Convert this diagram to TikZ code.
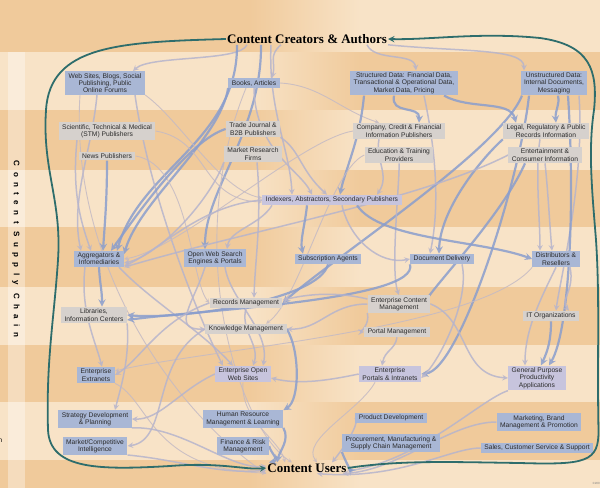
\documentclass[tikz,border=0pt]{standalone}
\usepackage{fontspec}
\setmainfont{Liberation Sans}
\newfontfamily\titlefont{Liberation Serif}
\usepackage{xcolor}
\usetikzlibrary{arrows}

\definecolor{bgdark}{HTML}{F0CA9B}
\definecolor{bglight}{HTML}{F8E3C7}
\definecolor{loopteal}{HTML}{2E6D6C}
\definecolor{boxblue}{HTML}{A9B7D5}
\definecolor{boxgray}{HTML}{D6D1CD}
\definecolor{boxlila}{HTML}{C7C4DD}
\definecolor{flowblue}{HTML}{8A9ECD}
\definecolor{flowgray}{HTML}{B6B4CC}
\definecolor{flowpale}{HTML}{C4BAC4}
\definecolor{txt}{HTML}{2B2B2B}

\pgfdeclarelayer{bg}
\pgfdeclarelayer{edges}
\pgfsetlayers{bg,edges,main}

\tikzset{
  box/.style={inner xsep=3.5pt, inner ysep=2pt, align=center, text=txt,
    font=\fontsize{6.7}{7.3}\selectfont},
  bluebox/.style={box, fill=boxblue},
  graybox/.style={box, fill=boxgray},
  lilabox/.style={box, fill=boxlila},
  flowb/.style={draw=flowblue, line width=2.2pt, -stealth, opacity=.85},
  flowg/.style={draw=flowgray, line width=1.5pt, -stealth, opacity=.85},
  flowt/.style={draw=flowpale, line width=0.9pt, -stealth, opacity=.85},
  loopline/.style={draw=loopteal, line width=1.8pt, -stealth},
  bigtitle/.style={font=\titlefont\bfseries\fontsize{13}{15}\selectfont, inner sep=1pt}
}

\begin{document}
\begin{tikzpicture}[x=1pt,y=-1pt]
\useasboundingbox (0,0) rectangle (600,499);

% background bands
\begin{pgfonlayer}{bg}
\foreach \ya/\yb/\ca/\cb in {0/52/bgdark/bglight, 52/110/bglight/bgdark, 110/170/bgdark/bglight,
    170/227/bglight/bgdark, 227/287/bgdark/bglight, 287/345/bglight/bgdark,
    345/402/bgdark/bglight, 402/460/bglight/bgdark, 460/488/bgdark/bglight}{
  \fill[\ca] (0,\ya) rectangle (250,\yb);
  \shade[left color=\ca, right color=\cb] (249.5,\ya) rectangle (360.5,\yb);
  \fill[\cb] (360,\ya) rectangle (600,\yb);
}
\fill[white] (0,488) rectangle (600,499);
\fill[white, opacity=.35] (8,52) rectangle (25,488);
\end{pgfonlayer}

% ends of the chain
\node[bigtitle] (cca) at (307,39) {Content Creators \& Authors};
\node[bigtitle] (cu) at (307,468) {Content Users};
\node[rotate=-90, text=black, font=\bfseries\fontsize{8}{9}\selectfont\addfontfeature{LetterSpace=68}] (chain) at (16,249) {Content Supply Chain};
\node[anchor=west, inner sep=0pt, font=\fontsize{6.5}{7}\selectfont] (cut) at (-1.5,441) {n};
\node[anchor=east, inner sep=0pt, text=gray, font=\fontsize{3}{3}\selectfont] (copy) at (600,483) {©200};

% creators
\node[bluebox] (web) at (105,83) {Web Sites, Blogs, Social\\Publishing, Public\\Online Forums};
\node[bluebox] (books) at (254,83) {Books, Articles};
\node[bluebox] (strd) at (404,83) {Structured Data: Financial Data,\\Transactional \& Operational Data,\\Market Data, Pricing};
\node[bluebox] (unstr) at (554,83) {Unstructured Data:\\Internal Documents,\\Messaging};

% publishers
\node[graybox] (stm) at (107,131) {Scientific, Technical \& Medical\\(STM) Publishers};
\node[graybox] (news) at (107,156) {News Publishers};
\node[graybox] (trade) at (253,129) {Trade Journal \&\\B2B Publishers};
\node[graybox] (mrf) at (253,154) {Market Research\\Firms};
\node[graybox] (ccf) at (399,131) {Company, Credit \& Financial\\Information Publishers};
\node[graybox] (edu) at (399,155) {Education \& Training\\Providers};
\node[graybox] (legal) at (546,131) {Legal, Regulatory \& Public\\Records Information};
\node[graybox] (ent) at (545,155) {Entertainment \&\\Consumer Information};

% intermediaries
\node[lilabox] (idx) at (332,200) {Indexers, Abstractors, Secondary Publishers};
\node[bluebox] (agg) at (99,259) {Aggregators \&\\Infomediaries};
\node[bluebox] (ows) at (215,258) {Open Web Search\\Engines \& Portals};
\node[bluebox] (subs) at (328,259) {Subscription Agents};
\node[bluebox] (docd) at (442,259) {Document Delivery};
\node[bluebox] (dist) at (556,259) {Distributors \&\\Resellers};

% enterprise
\node[graybox] (lib) at (94,315) {Libraries,\\Information Centers};
\node[graybox] (recm) at (246,303) {Records Management};
\node[graybox] (know) at (246,329) {Knowledge Management};
\node[graybox] (ecm) at (399,304) {Enterprise Content\\Management};
\node[graybox] (portm) at (397,332) {Portal Management};
\node[graybox] (ito) at (551,316) {IT Organizations};
\node[bluebox] (extr) at (96,375) {Enterprise\\Extranets};
\node[lilabox] (eows) at (243,374) {Enterprise Open\\Web Sites};
\node[lilabox] (epi) at (390,374) {Enterprise\\Portals \& Intranets};
\node[lilabox] (gpa) at (537,378) {General Purpose\\Productivity\\Applications};

% functions
\node[bluebox] (strat) at (95,419) {Strategy Development\\\& Planning};
\node[bluebox] (mci) at (95,446) {Market/Competitive\\Intelligence};
\node[bluebox] (hrm) at (243,419) {Human Resource\\Management \& Learning};
\node[bluebox] (fin) at (243,446) {Finance \& Risk\\Management};
\node[bluebox] (prod) at (391,418) {Product Development};
\node[bluebox] (proc) at (391,443) {Procurement, Manufacturing \&\\Supply Chain Management};
\node[bluebox] (mkt) at (539,422) {Marketing, Brand\\Management \& Promotion};
\node[bluebox] (sales) at (537,448) {Sales, Customer Service \& Support};

% the loop
\draw[loopline] (cca.west) .. controls (120,42) and (50,45) .. (46,110)
  .. controls (42,170) and (62,200) .. (58,260) .. controls (54,320) and (46,360) .. (48,430)
  .. controls (50,470) and (100,470) .. (170,466) .. controls (220,462) and (245,470) .. (cu.west);
\draw[loopline] (cu.east) .. controls (400,460) and (450,462) .. (520,463)
  .. controls (586,465) and (599,462) .. (598.5,430) .. controls (597,360) and (600,300) .. (596,240)
  .. controls (592,190) and (588,150) .. (594,110) .. controls (598,70) and (590,45) .. (540,38)
  .. controls (480,32) and (430,40) .. (cca.east);

\begin{pgfonlayer}{edges}
% from the creators
\draw[flowg] ([xshift=-60pt]cca.south) .. controls (240,62) and (150,55) .. ([xshift=28pt]web.north);
\draw[flowg] ([xshift=-26pt]cca.south) .. controls (268,56) and (276,62) .. ([xshift=18pt]books.north);
\draw[flowg] ([xshift=60pt]cca.south) .. controls (375,62) and (414,52) .. ([xshift=12pt]strd.north);
\draw[flowg] (cca.south east) .. controls (460,52) and (524,48) .. ([xshift=-30pt]unstr.north);
\draw[flowb] ([xshift=-70pt]cca.south) .. controls (238,140) and (140,170) .. ([xshift=18pt]agg.north);
\draw[flowb] ([xshift=-46pt]cca.south) .. controls (262,130) and (205,190) .. ([xshift=-10pt]ows.north);
\draw[flowg] ([xshift=-36pt]cca.south) .. controls (268,110) and (290,150) .. ([xshift=-40pt]idx.north);
\draw[flowg] ([xshift=-8pt]web.south) .. controls (92,150) and (70,200) .. ([xshift=-18pt]agg.north);
\draw[flowg] ([xshift=30pt]web.south) .. controls (150,200) and (200,320) .. ([xshift=-20pt]eows.north);
\draw[flowt] (web.south east) .. controls (180,120) and (220,190) .. ([yshift=2pt]idx.west);
\draw[flowt] ([xshift=-25pt]web.south) .. controls (70,250) and (160,400) .. ([yshift=-6pt]cu.west);
\draw[flowb] (books.south west) .. controls (220,140) and (140,200) .. ([yshift=5pt]agg.east);
\draw[flowg] (books.south) .. controls (255,150) and (300,170) .. ([xshift=-20pt]idx.north);
\draw[flowt] (books.east) .. controls (320,85) and (340,110) .. ([xshift=-20pt]ccf.north);
\draw[flowt] ([xshift=-8pt]books.south) .. controls (180,250) and (240,430) .. ([xshift=-15pt]cu.north);
\draw[flowb] ([xshift=-40pt]strd.south) .. controls (360,140) and (345,170) .. ([xshift=8pt]idx.north);
\draw[flowb] ([xshift=-10pt]strd.south) .. controls (390,115) and (420,105) .. ([xshift=20pt]ccf.north);
\draw[flowb] ([xshift=40pt]strd.south) .. controls (470,110) and (510,100) .. ([xshift=-30pt]legal.north);
\draw[flowg] ([xshift=20pt]strd.south) .. controls (440,170) and (437,220) .. ([xshift=-12pt]docd.north);
\draw[flowb] ([xshift=4pt]unstr.south) .. controls (560,105) and (555,110) .. ([xshift=10pt]legal.north);
\draw[flowb] ([xshift=-25pt]unstr.south) .. controls (520,180) and (460,370) .. (epi.east);
\draw[flowg] ([xshift=25pt]unstr.south) .. controls (585,180) and (560,280) .. ([xshift=5pt]ito.north);
\draw[flowb] ([xshift=14pt]unstr.south) .. controls (575,200) and (570,330) .. ([xshift=12pt]gpa.north);
\draw[flowb] ([xshift=-32pt]unstr.south) .. controls (500,150) and (330,260) .. (recm.east);

% publishers onward
\draw[flowg] ([xshift=-30pt]stm.south) .. controls (72,190) and (80,220) .. ([xshift=-8pt]agg.north);
\draw[flowt] (stm.east) .. controls (210,140) and (200,200) .. ([yshift=-2pt]idx.west);
\draw[flowb] (news.south) .. controls (107,200) and (105,220) .. ([xshift=4pt]agg.north);
\draw[flowt] (news.east) .. controls (190,165) and (190,280) .. (recm.west);
\draw[flowb] (trade.west) .. controls (190,140) and (140,210) .. ([xshift=12pt]agg.north);
\draw[flowg] (trade.south east) .. controls (300,150) and (300,170) .. ([xshift=-5pt]idx.north);
\draw[flowg] (mrf.south west) .. controls (210,200) and (160,255) .. ([yshift=-4pt]agg.east);
\draw[flowg] ([xshift=4pt]mrf.south) .. controls (262,220) and (255,260) .. ([xshift=8pt]recm.north);
\draw[flowg] ([xshift=-20pt]ccf.south) .. controls (375,160) and (390,175) .. ([xshift=45pt]idx.north);
\draw[flowt] (ccf.west) .. controls (300,140) and (180,250) .. (agg.east);
\draw[flowg] (edu.south) .. controls (400,180) and (390,270) .. (ecm.north);
\draw[flowt] (edu.west) .. controls (330,170) and (300,300) .. ([xshift=20pt]know.north);
\draw[flowb] (legal.south west) .. controls (480,160) and (440,210) .. ([xshift=-3pt]docd.north);
\draw[flowg] ([xshift=-6pt]legal.south) .. controls (535,170) and (540,220) .. ([xshift=-16pt]dist.north);
\draw[flowg] (ent.south) .. controls (548,190) and (550,230) .. ([xshift=-4pt]dist.north);
\draw[flowg] (ent.west) .. controls (420,200) and (250,230) .. (agg.south east);
\draw[flowb] ([xshift=-20pt]ent.south) .. controls (500,220) and (420,300) .. (ecm.east);

% intermediaries
\draw[flowg] (idx.west) .. controls (200,205) and (160,250) .. ([yshift=-7pt]agg.east);
\draw[flowb] ([xshift=-25pt]idx.south) .. controls (305,225) and (300,240) .. ([xshift=-25pt]subs.north);
\draw[flowb] ([xshift=25pt]idx.south) .. controls (380,240) and (480,240) .. (dist.west);
\draw[flowg] ([xshift=10pt]idx.south) .. controls (350,240) and (380,265) .. (docd.west);
\draw[flowg] ([xshift=-60pt]idx.south) .. controls (260,225) and (230,230) .. ([xshift=12pt]ows.north);
\draw[flowb] (agg.south) .. controls (100,285) and (102,290) .. ([xshift=8pt]lib.north);
\draw[flowg] ([xshift=-14pt]agg.south) .. controls (80,310) and (95,340) .. ([xshift=6pt]extr.north);
\draw[flowg] ([xshift=20pt]agg.south) .. controls (150,300) and (200,330) .. ([xshift=-10pt]eows.north);
\draw[flowg] ([xshift=-10pt]ows.south) .. controls (195,300) and (170,330) .. (know.west);
\draw[flowg] ([xshift=10pt]ows.south) .. controls (230,300) and (270,330) .. ([xshift=20pt]eows.north);
\draw[flowb] (subs.south) .. controls (320,300) and (180,320) .. (lib.east);
\draw[flowb] (docd.south west) .. controls (420,300) and (200,310) .. ([yshift=-5pt]lib.east);
\draw[flowg] ([xshift=20pt]docd.south) .. controls (470,300) and (440,360) .. ([yshift=-4pt]epi.east);
\draw[flowg] (dist.south) .. controls (540,300) and (525,330) .. ([xshift=-12pt]gpa.north);
\draw[flowg] ([xshift=14pt]dist.south) .. controls (575,290) and (560,300) .. ([xshift=18pt]ito.north);
\draw[flowt] (dist.south west) .. controls (480,330) and (200,350) .. ([yshift=4pt]extr.east);

% enterprise
\draw[flowg] (ecm.south west) .. controls (370,325) and (360,332) .. (portm.west);
\draw[flowg] (portm.south) .. controls (395,350) and (385,350) .. ([xshift=-8pt]epi.north);
\draw[flowg] (ecm.west) .. controls (330,304) and (320,330) .. (know.east);
\draw[flowg] ([yshift=5pt]ecm.west) .. controls (330,290) and (300,296) .. ([yshift=3pt]recm.east);
\draw[flowg] (ecm.east) .. controls (470,320) and (460,375) .. (gpa.west);
\draw[flowb] (ito.south) .. controls (551,340) and (548,350) .. ([xshift=4pt]gpa.north);
\draw[flowg] (recm.south) .. controls (240,330) and (260,345) .. ([xshift=10pt]eows.north);
\draw[flowg] (recm.west) .. controls (160,320) and (140,360) .. (extr.east);
\draw[flowg] (epi.west) .. controls (330,380) and (300,385) .. ([yshift=-4pt]eows.east);
\draw[flowt] ([xshift=-15pt]epi.south) .. controls (360,410) and (300,440) .. ([xshift=10pt]cu.north);
\draw[flowg] (gpa.south west) .. controls (480,400) and (420,460) .. ([yshift=-3pt]cu.east);
\draw[flowt] (eows.south) .. controls (240,420) and (280,440) .. ([xshift=-22pt]cu.north);
\draw[flowg] (eows.west) .. controls (180,390) and (160,420) .. (strat.east);
\draw[flowg] (know.west) .. controls (150,360) and (170,440) .. (mci.east);
\draw[flowb] (know.east) .. controls (300,350) and (300,400) .. (hrm.north east);
\draw[flowg] (lib.south east) .. controls (130,360) and (120,390) .. ([xshift=20pt]strat.north);
\draw[flowt] (extr.south east) .. controls (150,400) and (150,470) .. ([yshift=-5pt]cu.west);

% functions to the users
\draw[flowg] (strat.south east) .. controls (180,425) and (230,470) .. ([yshift=2pt]cu.west);
\draw[flowg] (mci.south east) .. controls (180,460) and (220,475) .. ([yshift=-2pt]cu.west);
\draw[flowb] (hrm.south east) .. controls (290,440) and (280,450) .. ([xshift=-30pt]cu.north);
\draw[flowb] (fin.east) .. controls (270,452) and (280,460) .. ([xshift=-38pt]cu.north);
\draw[flowg] (prod.west) .. controls (360,420) and (350,440) .. ([xshift=25pt]cu.north);
\draw[flowb] (proc.south west) .. controls (345,460) and (350,470) .. (cu.east);
\draw[flowg] (mkt.west) .. controls (450,422) and (400,470) .. ([xshift=-5pt]cu.south east);
\draw[flowg] (sales.west) .. controls (450,448) and (400,480) .. ([xshift=10pt]cu.south);
\end{pgfonlayer}
\end{tikzpicture}
\end{document}
